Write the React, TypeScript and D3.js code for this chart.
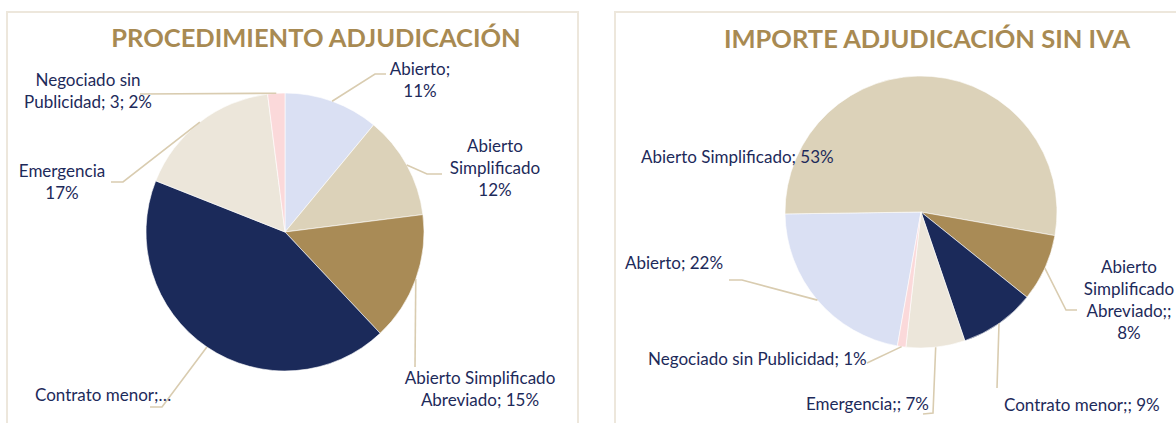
import * as d3 from "d3";

// categorias (mismo orden en las dos tartas)
const categories = [
  "Abierto",
  "Abierto Simplificado",
  "Abierto Simplificado Abreviado",
  "Contrato menor",
  "Emergencia",
  "Negociado sin Publicidad",
];
const colors = ["#dae0f3", "#dcd2b9", "#a98b56", "#1b2a5a", "#ece6da", "#fbd9da"];

// Procedimiento adjudicacion: % de expedientes (y numero mostrado en una etiqueta)
const procedimientoPct = [11, 12, 15, 43, 17, 2];
const procedimientoNum = [16, 18, 23, 65, 25, 3];
const procedimientoLabels = [
  ["Abierto;", "{p}%"],
  ["Abierto", "Simplificado", "{p}%"],
  ["Abierto Simplificado", "Abreviado; {p}%"],
  ["Contrato menor;…"],
  ["Emergencia", "{p}%"],
  ["Negociado sin", "Publicidad; {n}; {p}%"],
];

// Importe adjudicacion sin IVA: %
const importePct = [22, 53, 8, 9, 7, 1];
const importeLabels = [
  ["Abierto; {p}%"],
  ["Abierto Simplificado; {p}%"],
  ["Abierto", "Simplificado", "Abreviado;;", "{p}%"],
  ["Contrato menor;; {p}%"],
  ["Emergencia;; {p}%"],
  ["Negociado sin Publicidad; {p}%"],
];

type LabelPos = { x: number; y: number; anchor: string; path: number[][] | null };

// posiciones de etiquetas (colocadas a mano, como en el original)
const leftLayout: LabelPos[] = [
  { x: 420, y: 75, anchor: "middle", path: [[375, 74], [386, 74]] },
  { x: 495, y: 152, anchor: "middle", path: [[427, 174], [442, 174]] },
  { x: 480, y: 384, anchor: "middle", path: [[415, 367]] },
  { x: 35, y: 401, anchor: "start", path: [[162, 407], [150, 407]] },
  { x: 62, y: 177, anchor: "middle", path: [[123, 182], [111, 182]] },
  { x: 88, y: 86, anchor: "middle", path: [[140, 94]] },
];
const rightLayout: LabelPos[] = [
  { x: 625, y: 269, anchor: "start", path: [[742, 280], [729, 280]] },
  { x: 641, y: 163, anchor: "start", path: null },
  { x: 1129, y: 273, anchor: "middle", path: [[1066, 310], [1077, 310]] },
  { x: 1004, y: 411, anchor: "start", path: [[997, 388]] },
  { x: 929, y: 410, anchor: "end", path: [[933, 413], [923, 414]] },
  { x: 648, y: 365, anchor: "start", path: [[867, 363]] },
];

const fontFamily = "Lato, 'Open Sans', sans-serif";
const textColor = "#1d2a5a";
const gold = "#a88a52";
const leaderColor = "#d9ccb0";

function PieChart({
  values, labels, counts, layout, cx, cy, r, startDeg,
}: {
  values: number[]; labels: string[][]; counts?: number[]; layout: LabelPos[];
  cx: number; cy: number; r: number; startDeg: number;
}) {
  const start = (startDeg * Math.PI) / 180;
  const pie = d3.pie<number>().sort(null).value((d) => d)
    .startAngle(start).endAngle(start + 2 * Math.PI);
  const arcs = pie(values);
  const arc = d3.arc<d3.PieArcDatum<number>>().innerRadius(0).outerRadius(r);
  const edge = d3.arc<d3.PieArcDatum<number>>().innerRadius(r).outerRadius(r);

  return (
    <g>
      <g transform={`translate(${cx},${cy})`}>
        {arcs.map((a, i) => (
          <path key={i} d={arc(a) || ""} fill={colors[i]} stroke="#fff" strokeWidth={0.6} />
        ))}
      </g>
      {arcs.map((a, i) => {
        const lp = layout[i];
        if (!lp.path) return null;
        const [ex, ey] = edge.centroid(a);
        const pts: [number, number][] = [[cx + ex, cy + ey], ...lp.path.map((p) => [p[0], p[1]] as [number, number])];
        return (
          <path key={"l" + i} d={d3.line()(pts) || ""} fill="none" stroke={leaderColor} strokeWidth={1.6} />
        );
      })}
      {labels.map((lines, i) => {
        const lp = layout[i];
        return (
          <text key={"t" + i} x={lp.x} y={lp.y} textAnchor={lp.anchor} fill={textColor}
            fontFamily={fontFamily} fontSize={17}>
            {lines.map((ln, j) => (
              <tspan key={j} x={lp.x} dy={j === 0 ? 0 : 22}>
                {ln.replace("{p}", String(values[i])).replace("{n}", counts ? String(counts[i]) : "")}
              </tspan>
            ))}
          </text>
        );
      })}
    </g>
  );
}

export default function App() {
  return (
    <svg width={1176} height={423} style={{ position: "absolute", left: 0, top: 0, background: "#fff" }}>
      <rect x={7} y={12} width={571} height={430} fill="#fff" stroke="#ede7dc" strokeWidth={2} />
      <rect x={615} y={12} width={600} height={430} fill="#fff" stroke="#ede7dc" strokeWidth={2} />

      <text x={316} y={47} textAnchor="middle" fill={gold} fontFamily={fontFamily}
        fontWeight="bold" fontSize={25.5}>PROCEDIMIENTO ADJUDICACIÓN</text>
      <text x={927} y={48} textAnchor="middle" fill={gold} fontFamily={fontFamily}
        fontWeight="bold" fontSize={25.5}>IMPORTE ADJUDICACIÓN SIN IVA</text>

      <PieChart values={procedimientoPct} counts={procedimientoNum} labels={procedimientoLabels}
        layout={leftLayout} cx={285} cy={232} r={139} startDeg={0} />
      <PieChart values={importePct} labels={importeLabels}
        layout={rightLayout} cx={921} cy={212} r={136} startDeg={190} />
    </svg>
  );
}
